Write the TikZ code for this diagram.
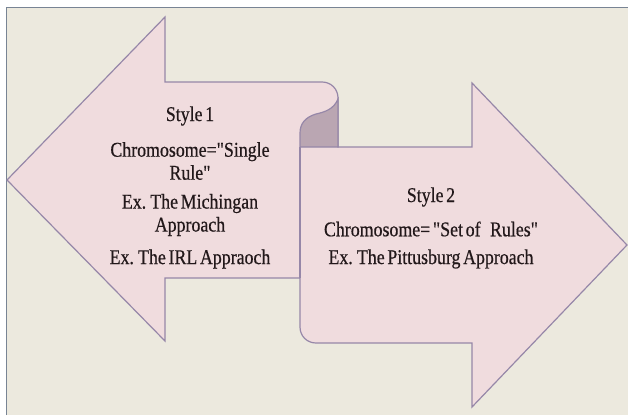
\documentclass[tikz,border=0pt]{standalone}
\usepackage{fontspec}
\setmainfont{Liberation Serif}[FakeStretch=0.85, FakeBold=0.5, WordSpace=0.6, Ligatures=TeXOff]
\definecolor{paper}{RGB}{236,233,222}
\definecolor{petal}{RGB}{240,220,222}
\definecolor{rim}{RGB}{150,135,168}
\definecolor{foldc}{RGB}{186,166,178}
\definecolor{framec}{RGB}{120,132,148}
\definecolor{ink}{RGB}{34,24,26}
\begin{document}
\begin{tikzpicture}[x=1pt, y=-1pt,
  txt/.style={font=\fontsize{21}{23}\selectfont, align=center, text=ink, inner sep=0pt},
  outline/.style={draw=rim, line width=1.2pt, line join=miter}]
\useasboundingbox (0,0) rectangle (628,415);
\fill[white] (0,0) rectangle (628,415);
\fill[paper] (6,7) rectangle (628,415);
\draw[framec, line width=0.8pt] (6,415) -- (6,7) -- (628,7);

% the double arrow band
\path[outline, fill=petal]
  (7,180) -- (165,17) -- (165,82) -- (322,82)
  .. controls (331,82) and (338,89) .. (338,98)
  -- (338,147) -- (472,147) -- (472,83) -- (627,245) -- (472,407) -- (472,343)
  -- (316,343) .. controls (307,343) and (300,336) .. (300,327)
  -- (300,278) -- (165,278) -- (165,341) -- cycle;

% the fold between the two arrows
\path[outline, fill=foldc]
  (338,99) .. controls (334,109) and (325,112) .. (316,114)
  .. controls (306,117) and (300,123) .. (300,133)
  -- (300,147) -- (338,147) -- cycle;
\draw[rim, line width=1.2pt] (300,147) -- (300,278);

% left arrow text
\node[txt] (s1) at (190,116) {Style 1};
\node[txt] (c1) at (190,161) {Chromosome="Single\\Rule"};
\node[txt] (m1) at (190,215) {Ex. The Michingan\\Approach};
\node[txt] (i1) at (190,259) {Ex. The IRL Appraoch};

% right arrow text
\node[txt] (s2) at (431,197) {Style 2};
\node[txt] (c2) at (431,229) {Chromosome= "Set of\hspace{0.45em}Rules"};
\node[txt] (p2) at (431,259) {Ex. The Pittusburg Approach};
\end{tikzpicture}
\end{document}
